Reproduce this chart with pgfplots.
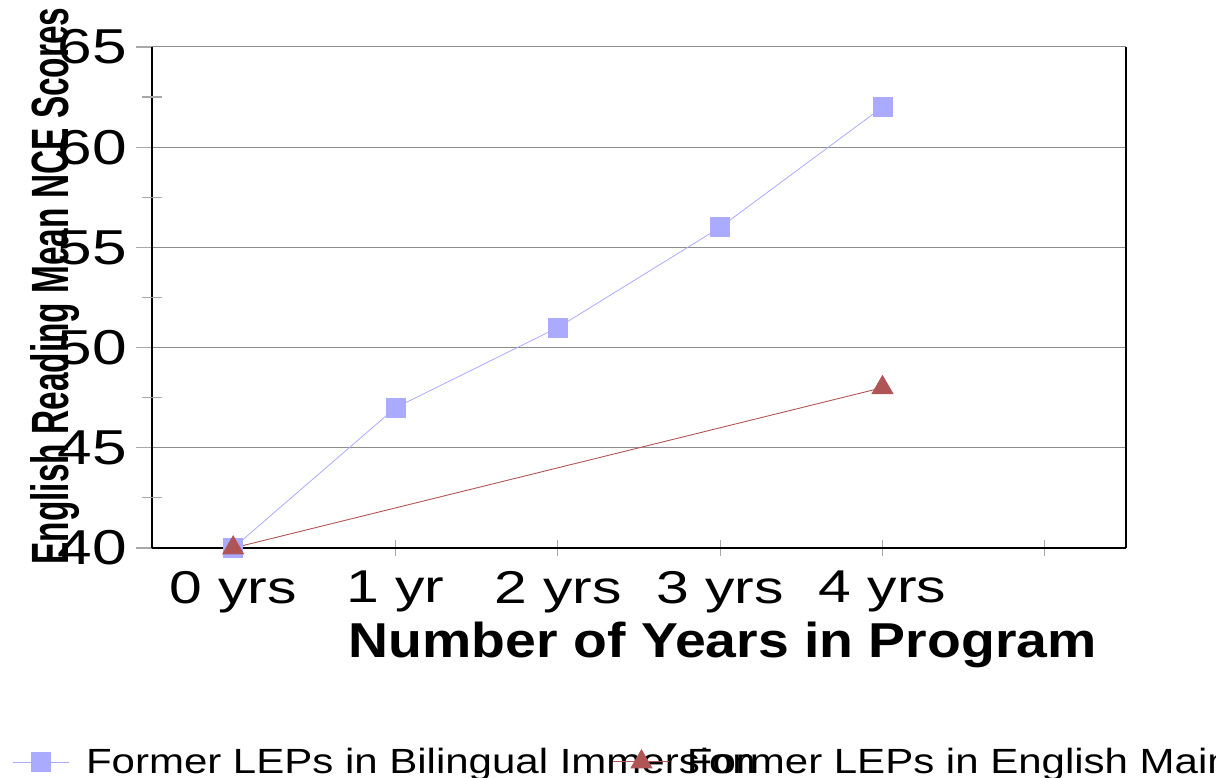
\documentclass[border=0pt]{standalone}
\usepackage{pgfplots}
\pgfplotsset{compat=1.18}
\usepackage{fontspec}
\setmainfont{Liberation Sans}
\definecolor{bluish}{HTML}{AAAAFF}
\definecolor{reddish}{HTML}{B05555}
\definecolor{gridgray}{HTML}{8C8C8C}
\definecolor{tickgray}{HTML}{A8A8A8}
\newcommand{\xs}[1]{\scalebox{1.28}[1]{#1}}
\begin{document}
\begin{tikzpicture}[x=1pt,y=1pt]
\path[use as bounding box] (0,0) rectangle (1216,778);
\begin{axis}[
  at={(152pt,230pt)}, anchor=south west,
  scale only axis, width=974pt, height=501pt,
  xmin=-0.5, xmax=5.5, ymin=40, ymax=65,
  axis x line*=bottom, axis y line*=left,
  axis line style={black, line width=1.2pt},
  xtick={0,1,2,3,4,5},
  xticklabels={\xs{0 yrs},\xs{1 yr},\xs{2 yrs},\xs{3 yrs},\xs{4 yrs},{}},
  ytick={40,45,50,55,60,65},
  x tick style={tickgray, line width=1.2pt},
  y tick style={tickgray, line width=1.2pt},
  xtick align=center, ytick align=outside,
  major tick length=16pt,
  extra y ticks={42.5,47.5,52.5,57.5,62.5},
  extra y tick labels={},
  extra y tick style={tick align=center, major tick length=20pt, grid=none},
  ymajorgrids, major grid style={gridgray, line width=1pt},
  /pgf/number format/assume math mode=true,
  yticklabel style={inner sep=0pt, anchor=east, xshift=-9pt, font=\fontsize{49}{55}\selectfont},
  yticklabel={\scalebox{1.27}[1]{\pgfmathprintnumber{\tick}}},
  xticklabel style={inner sep=0pt, anchor=north, yshift=-15pt, font=\fontsize{46}{55}\selectfont},
  xlabel={\scalebox{1.13}[1]{\fontsize{49}{55}\selectfont\bfseries Number of Years in Program}},
  xlabel style={at={(rel axis cs:0.586,-0.2176)}, anchor=base, inner sep=0pt},
  ylabel={\resizebox{557pt}{38pt}{\bfseries English Reading Mean NCE Scores}},
  ylabel style={at={(rel axis cs:-0.100,0.523)}, anchor=center, rotate=0, inner sep=0pt},
  legend columns=2,
  legend style={at={(rel axis cs:-0.1437,-0.427)}, anchor=west, draw=none, fill=none,
    inner sep=0pt, nodes={inner sep=0pt, anchor=west},
    font=\fontsize{35}{40}\selectfont,
    /tikz/every odd column/.append style={column sep=17pt},
    /tikz/every even column/.append style={column sep=0pt}},
  legend image code/.code={\draw[mark repeat=2,mark phase=2,#1] plot coordinates {(0pt,0pt) (28pt,0pt) (56pt,0pt)};},
  clip=false,
]
\addplot[bluish, line width=0.8pt, mark=square*, mark size=9.5pt, mark options={fill=bluish, draw=bluish}]
  coordinates {(0,40) (1,47) (2,51) (3,56) (4,62)};
\addlegendentry{\makebox[527pt][l]{\scalebox{1.2}[1]{Former LEPs in Bilingual Immersion}}}
\addplot[reddish, line width=0.9pt, mark=triangle*, mark size=12pt, mark options={fill=reddish, draw=reddish}]
  coordinates {(0,40) (4,48)};
\addlegendentry{\makebox[600pt][l]{\scalebox{1.2}[1]{Former LEPs in English Mainstream}}}
\draw[black, line width=1.2pt] (rel axis cs:1,0) -- (rel axis cs:1,1);
\end{axis}
\end{tikzpicture}
\end{document}
